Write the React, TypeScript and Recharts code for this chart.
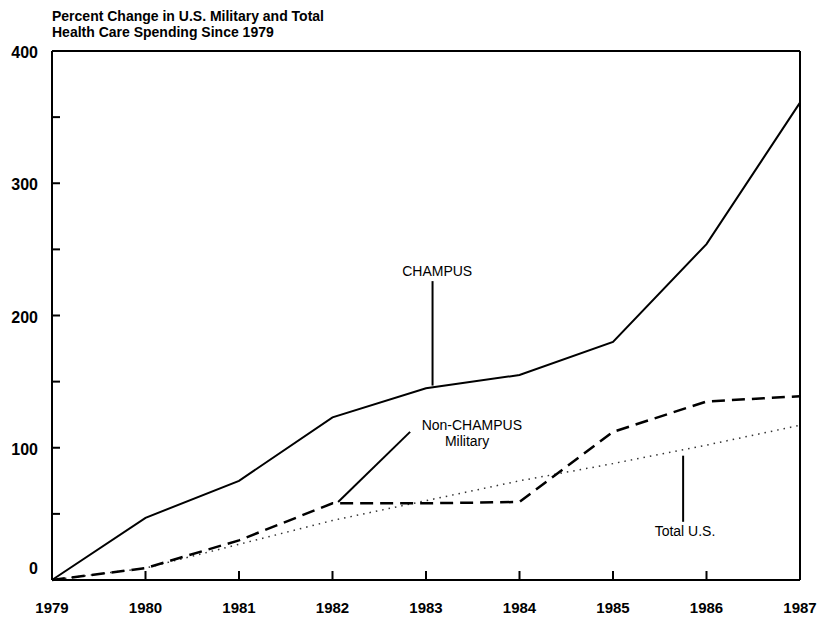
import React from "react";
import {
  LineChart,
  Line,
  XAxis,
  YAxis,
  ReferenceLine,
  ReferenceDot,
} from "recharts";

const years = [1979, 1980, 1981, 1982, 1983, 1984, 1985, 1986, 1987];
const champus = [0, 47, 75, 123, 145, 155, 180, 254, 361];
const nonChampus = [0, 9, 30, 58, 58, 59, 112, 135, 139];
const totalUS = [0, 9, 27, 45, 60, 75, 88, 102, 117];
const yTicks = [0, 50, 100, 150, 200, 250, 300, 350, 400];

const titleLines = [
  "Percent Change in U.S. Military and Total",
  "Health Care Spending Since 1979",
];

const data = years.map((year, i) => ({
  year,
  champus: champus[i],
  nonChampus: nonChampus[i],
  totalUS: totalUS[i],
}));

const FONT = '"Liberation Sans", Arial, Helvetica, sans-serif';

// y axis: inward tick marks every 50, labels every 100
const YTick = (props: any) => {
  const { x, y, payload } = props;
  const v = payload.value;
  return (
    <g>
      <line x1={x} x2={x + 8} y1={y} y2={y} stroke="#000" strokeWidth={2} />
      {v % 100 === 0 && (
        <text
          x={x - 14}
          y={v === 0 ? y - 6 : y + 7}
          textAnchor="end"
          fontSize={16}
          fontWeight={600}
          fontFamily={FONT}
          fill="#000"
        >
          {v}
        </text>
      )}
    </g>
  );
};

const XTick = (props: any) => {
  const { x, y, payload } = props;
  return (
    <g>
      <line x1={x} x2={x} y1={y} y2={y - 9} stroke="#000" strokeWidth={2} />
      <text
        x={x}
        y={y + 33}
        textAnchor="middle"
        fontSize={15}
        fontWeight={600}
        fontFamily={FONT}
        fill="#000"
      >
        {payload.value}
      </text>
    </g>
  );
};

const note = (text: string) => (props: any) => {
  const { viewBox } = props;
  const cx = viewBox.x + (viewBox.width || 0) / 2;
  const cy = viewBox.y + (viewBox.height || 0) / 2;
  return (
    <text
      x={cx}
      y={cy + 5}
      textAnchor="middle"
      fontSize={14}
      fontFamily={FONT}
      fill="#000"
    >
      {text}
    </text>
  );
};

export default function App() {
  return (
    <div
      style={{
        position: "absolute",
        left: 0,
        top: 0,
        width: 819,
        height: 621,
        background: "#fff",
      }}
    >
      <div
        style={{
          position: "absolute",
          left: 52,
          top: 8,
          fontFamily: FONT,
          fontSize: 14,
          fontWeight: 600,
          lineHeight: "16px",
          color: "#000",
        }}
      >
        {titleLines.map((t) => (
          <div key={t}>{t}</div>
        ))}
      </div>
      <LineChart
        width={819}
        height={621}
        data={data}
        margin={{ top: 51, right: 19, left: 12, bottom: 11 }}
      >
        <XAxis
          dataKey="year"
          type="number"
          domain={[1979, 1987]}
          ticks={years}
          interval={0}
          tickSize={0}
          tickMargin={0}
          tickLine={false}
          tick={<XTick />}
          height={30}
          axisLine={{ stroke: "#000", strokeWidth: 2 }}
        />
        <YAxis
          type="number"
          domain={[0, 400]}
          ticks={yTicks}
          interval={0}
          tickSize={0}
          tickMargin={0}
          tickLine={false}
          tick={<YTick />}
          width={40}
          axisLine={{ stroke: "#000", strokeWidth: 2 }}
        />
        <ReferenceLine y={400} stroke="#000" strokeWidth={2} />
        <ReferenceLine x={1987} stroke="#000" strokeWidth={2} />

        <Line
          dataKey="totalUS"
          type="linear"
          stroke="#333"
          strokeWidth={1.5}
          strokeDasharray="1.5 5"
          dot={false}
          isAnimationActive={false}
        />
        <Line
          dataKey="nonChampus"
          type="linear"
          stroke="#000"
          strokeWidth={2.5}
          strokeDasharray="13 7"
          dot={false}
          isAnimationActive={false}
        />
        <Line
          dataKey="champus"
          type="linear"
          stroke="#000"
          strokeWidth={2}
          dot={false}
          isAnimationActive={false}
        />

        {/* annotation pointers */}
        <ReferenceLine
          segment={[
            { x: 1983.07, y: 147 },
            { x: 1983.07, y: 226 },
          ]}
          stroke="#000"
          strokeWidth={2}
        />
        <ReferenceLine
          segment={[
            { x: 1982.06, y: 59 },
            { x: 1982.83, y: 112 },
          ]}
          stroke="#000"
          strokeWidth={2}
        />
        <ReferenceLine
          segment={[
            { x: 1985.75, y: 44 },
            { x: 1985.75, y: 94 },
          ]}
          stroke="#000"
          strokeWidth={2}
        />
        <ReferenceDot x={1983.12} y={234} r={0} label={note("CHAMPUS")} ifOverflow="visible" />
        <ReferenceDot x={1983.49} y={117} r={0} label={note("Non-CHAMPUS")} ifOverflow="visible" />
        <ReferenceDot x={1983.44} y={105} r={0} label={note("Military")} ifOverflow="visible" />
        <ReferenceDot x={1985.77} y={37} r={0} label={note("Total U.S.")} ifOverflow="visible" />
      </LineChart>
    </div>
  );
}
